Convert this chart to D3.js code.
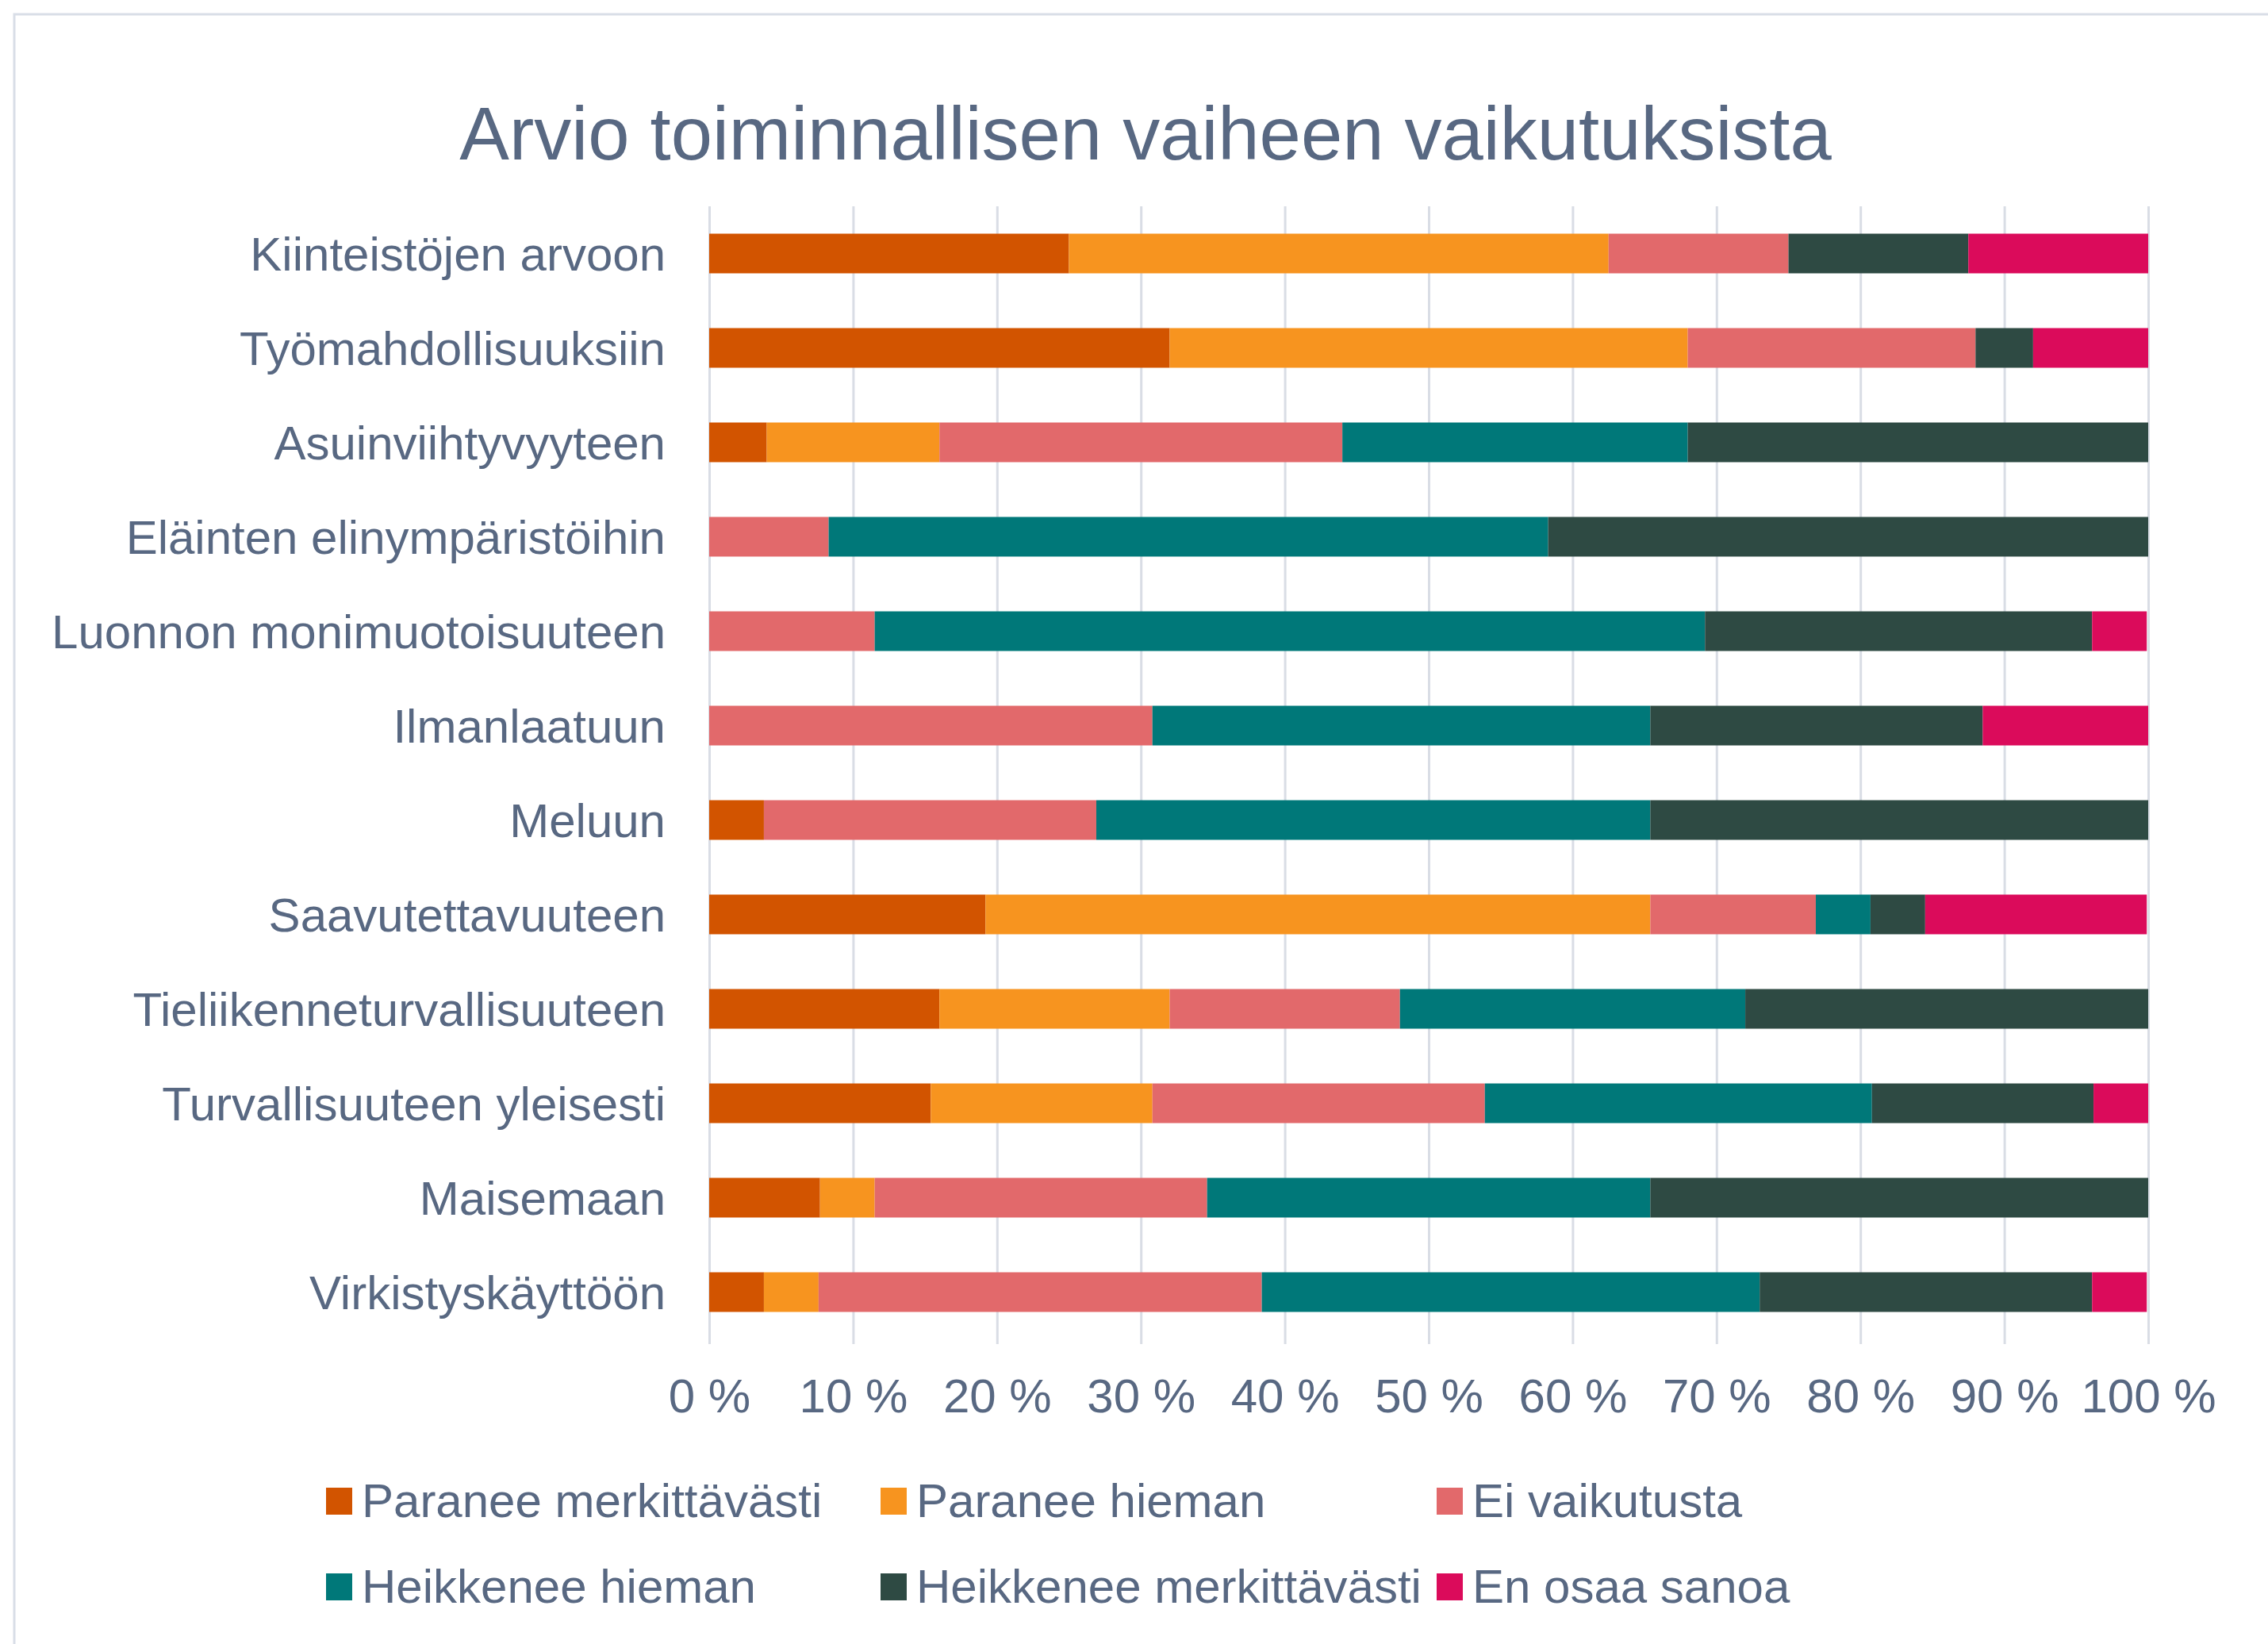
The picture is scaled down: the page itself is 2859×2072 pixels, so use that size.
<!DOCTYPE html>
<html>
<head>
<meta charset="utf-8">
<script src="https://cdn.jsdelivr.net/npm/d3@7"></script>
<style>
  body { margin: 0; background: #fff; }
  text { font-family: "Liberation Sans", Arial, sans-serif; }
</style>
</head>
<body>
<svg id="chart" width="2859" height="2072"></svg>
<script>
// Categories, top to bottom
var categories = [
    "Kiinteistöjen arvoon",
    "Työmahdollisuuksiin",
    "Asuinviihtyvyyteen",
    "Eläinten elinympäristöihin",
    "Luonnon monimuotoisuuteen",
    "Ilmanlaatuun",
    "Meluun",
    "Saavutettavuuteen",
    "Tieliikenneturvallisuuteen",
    "Turvallisuuteen yleisesti",
    "Maisemaan",
    "Virkistyskäyttöön"
];

var seriesNames = [
    "Paranee merkittävästi",
    "Paranee hieman",
    "Ei vaikutusta",
    "Heikkenee hieman",
    "Heikkenee merkittävästi",
    "En osaa sanoa"
];

// Shares (%) per category, same order as categories
var paraneeMerkittavasti = [25, 32, 4, 0, 0, 0, 3.8, 19.2, 16, 15.4, 7.7, 3.8];
var paraneeHieman        = [37.5, 36, 12, 0, 0, 0, 0, 46.2, 16, 15.4, 3.8, 3.8];
var eiVaikutusta         = [12.5, 20, 28, 8.3, 11.5, 30.8, 23.1, 11.5, 16, 23.1, 23.1, 30.8];
var heikkeneeHieman      = [0, 0, 24, 50, 57.7, 34.6, 38.5, 3.8, 24, 26.9, 30.8, 34.6];
var heikkeneeMerkittavasti = [12.5, 4, 32, 41.7, 26.9, 23.1, 34.6, 3.8, 28, 15.4, 34.6, 23.1];
var enOsaaSanoa          = [12.5, 8, 0, 0, 3.8, 11.5, 0, 15.4, 0, 3.8, 0, 3.8];

var tickValues = [0, 10, 20, 30, 40, 50, 60, 70, 80, 90, 100];
var tickLabels = ["0 %", "10 %", "20 %", "30 %", "40 %", "50 %", "60 %", "70 %", "80 %", "90 %", "100 %"];

var colors = ["#d25400", "#f7941f", "#e2696b", "#007879", "#2e4a43", "#db0b5b"];
var title = "Arvio toiminnallisen vaiheen vaikutuksista";

var svg = d3.select("#chart");
var textColor = "#586882";

// Outer frame
svg.append("rect")
    .attr("x", 18).attr("y", 18)
    .attr("width", 2900).attr("height", 2100)
    .attr("fill", "none")
    .attr("stroke", "#d9dee7")
    .attr("stroke-width", 3);

var plot = { left: 894, right: 2708, top: 260, bottom: 1688 };

var x = d3.scaleLinear().domain([0, 100]).range([plot.left, plot.right]);
var y = d3.scaleBand().domain(categories)
    .range([plot.top, plot.bottom])
    .paddingInner(0.58)
    .paddingOuter(0.29);

// Gridlines
svg.append("g")
    .attr("transform", "translate(0," + (plot.bottom + 6) + ")")
    .call(d3.axisBottom(x).tickValues(tickValues).tickSize(-(plot.bottom - plot.top + 6)).tickFormat(""))
    .call(function (g) { g.select(".domain").remove(); })
    .selectAll("line")
    .attr("stroke", "#d9dde5")
    .attr("stroke-width", 3);

// Stack the series
var table = categories.map(function (c, i) {
    return {
        category: c,
        s0: paraneeMerkittavasti[i],
        s1: paraneeHieman[i],
        s2: eiVaikutusta[i],
        s3: heikkeneeHieman[i],
        s4: heikkeneeMerkittavasti[i],
        s5: enOsaaSanoa[i]
    };
});
var keys = ["s0", "s1", "s2", "s3", "s4", "s5"];
var stacked = d3.stack().keys(keys)(table);

svg.append("g")
    .selectAll("g")
    .data(stacked)
    .enter()
    .append("g")
    .attr("fill", function (d, i) { return colors[i]; })
    .selectAll("rect")
    .data(function (d) { return d; })
    .enter()
    .append("rect")
    .attr("x", function (d) { return x(d[0]); })
    .attr("y", function (d) { return y(d.data.category); })
    .attr("width", function (d) { return Math.max(0, x(d[1]) - x(d[0])); })
    .attr("height", y.bandwidth());

// Category axis
var yAxis = svg.append("g")
    .attr("transform", "translate(" + (plot.left - 55) + ",0)")
    .call(d3.axisLeft(y).tickSize(0).tickPadding(0));
yAxis.select(".domain").remove();
yAxis.selectAll("text")
    .attr("fill", textColor)
    .style("font-size", "60px")
    .style("font-family", "'Liberation Sans', Arial, sans-serif")
    .attr("dy", "0.36em");

// Percent axis labels
var xAxis = svg.append("g")
    .attr("transform", "translate(0," + plot.bottom + ")")
    .call(d3.axisBottom(x).tickValues(tickValues).tickSize(0).tickPadding(0)
        .tickFormat(function (d, i) { return tickLabels[i]; }));
xAxis.select(".domain").remove();
xAxis.selectAll("text")
    .attr("fill", textColor)
    .attr("y", 92)
    .attr("dy", 0)
    .style("font-size", "60px")
    .style("font-family", "'Liberation Sans', Arial, sans-serif");

// Title
svg.append("text")
    .attr("x", 1444)
    .attr("y", 201)
    .attr("text-anchor", "middle")
    .attr("fill", textColor)
    .style("font-size", "94px")
    .text(title);

// Legend
var legendCols = [411, 1110, 1811];
var legendRows = [1875, 1983];
var legend = svg.append("g")
    .selectAll("g")
    .data(seriesNames)
    .enter()
    .append("g")
    .attr("transform", function (d, i) {
        return "translate(" + legendCols[i % 3] + "," + legendRows[Math.floor(i / 3)] + ")";
    });
legend.append("rect")
    .attr("width", 33)
    .attr("height", 34)
    .attr("fill", function (d, i) { return colors[i]; });
legend.append("text")
    .attr("x", 45)
    .attr("y", 37)
    .attr("fill", textColor)
    .style("font-size", "60px")
    .text(function (d) { return d; });
</script>
</body>
</html>
